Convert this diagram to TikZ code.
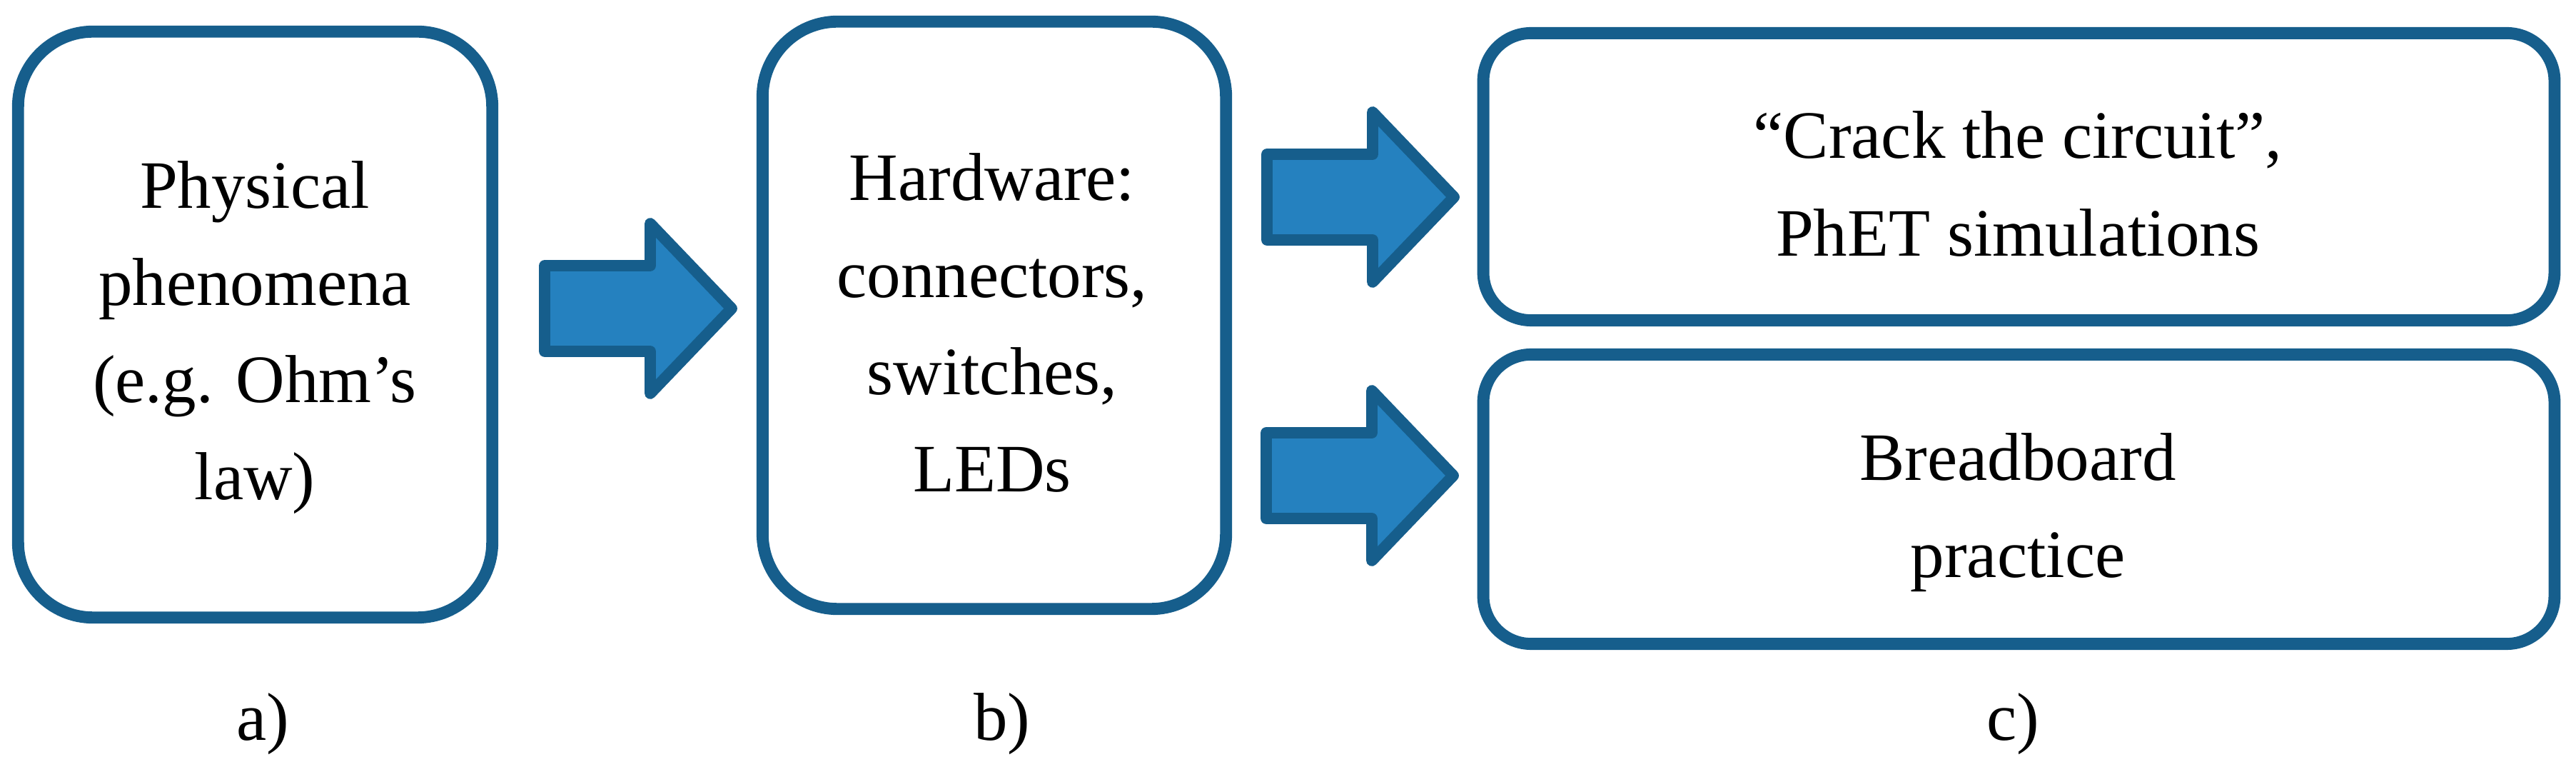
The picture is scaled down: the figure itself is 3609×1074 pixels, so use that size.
\documentclass[tikz,border=0pt]{standalone}
\usepackage{fontspec}
\setmainfont{Liberation Serif}
\definecolor{boxline}{RGB}{22,94,140}
\definecolor{arrowfill}{RGB}{37,129,191}
\tikzset{
  roundbox/.style={draw=boxline, line width=4.8pt, fill=white, rectangle, inner sep=0pt},
  bigbox/.style={roundbox, rounded corners=1.05cm},
  widebox/.style={roundbox, rounded corners=0.67cm, minimum width=15.00cm},
  txt/.style={align=center, inner sep=0pt, font=\fontsize{27}{38.7}\selectfont},
  lbl/.style={inner sep=0pt, anchor=base, font=\fontsize{27}{38.7}\selectfont},
  barrow/.style={draw=boxline, fill=arrowfill, line width=4.5pt, line join=round}
}
\newcommand{\blockarrow}[3]{%
  \draw[barrow] (#2,#3) coordinate (#1) ++(0,-60) -- ++(148,0) -- ++(0,-59)
    -- ++(114,119) -- ++(-114,119) -- ++(0,-59) -- ++(-148,0) -- cycle;}
\begin{document}
\begin{tikzpicture}[x=0.01cm, y=-0.01cm]
\useasboundingbox (0,0) rectangle (3609,1074);
% boxes
\node[bigbox, minimum width=6.64cm, minimum height=8.20cm] (boxA) at (357.5,454.5) {};
\node[bigbox, minimum width=6.49cm, minimum height=8.22cm] (boxB) at (1393,441.5) {};
\node[widebox, minimum height=4.02cm] (boxC1) at (2828.5,247.5) {};
\node[widebox, minimum height=4.05cm] (boxC2) at (2828.5,699) {};
% texts
\node[txt] (txtA) at (357,473) {Physical\\phenomena\\(e.g. Ohm’s\\law)};
\node[txt] (txtB) at (1390,452) {Hardware:\\connectors,\\switches,\\LEDs};
\node[txt] (txtC1) at (2827,257.5) {“Crack the circuit”,\\PhET simulations};
\node[txt] (txtC2) at (2827,718) {Breadboard\\practice};
% block arrows
\blockarrow{arrA}{763}{432}
\blockarrow{arrB}{1775}{276}
\blockarrow{arrC}{1774}{666}
% labels
\node[lbl] (labA) at (368,1037) {a)};
\node[lbl] (labB) at (1404,1037) {b)};
\node[lbl] (labC) at (2820,1037) {c)};
\end{tikzpicture}
\end{document}
